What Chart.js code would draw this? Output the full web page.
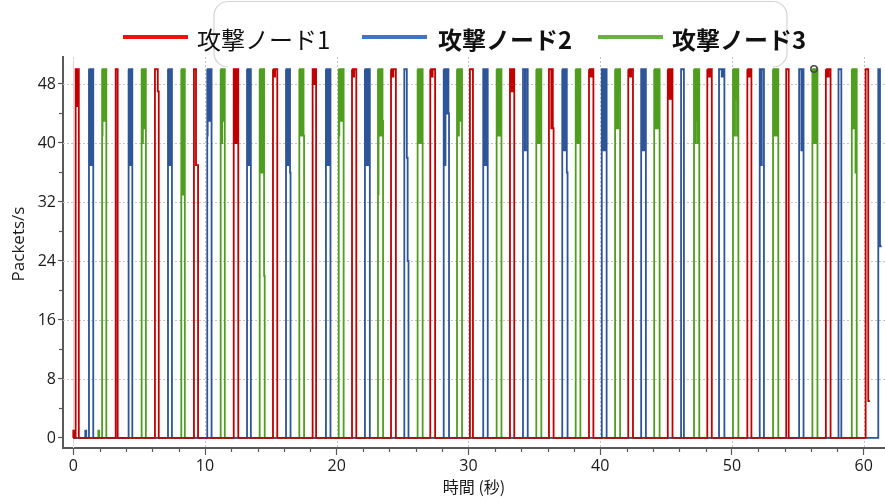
<!DOCTYPE html>
<html>
<head>
<meta charset="utf-8">
<script src="https://cdn.jsdelivr.net/npm/chart.js@4.4.1/dist/chart.umd.min.js"></script>
<style>
  html, body { margin: 0; padding: 0; background: #ffffff; }
  #wrap { position: relative; width: 885px; height: 502px; }
</style>
</head>
<body>
<div id="wrap"><canvas id="c" width="885" height="502"></canvas></div>
<script>
// Series names (legend)
const seriesNames = ['攻撃ノード1', '攻撃ノード2', '攻撃ノード3'];

// Each burst: [start (s), end (s), packets/s per equal slice of the burst, falls back to 0 afterwards]
const node1Bursts = [
  [0.00, 0.14, [1, 1]],
  [0.18, 0.48, [50, 50, 50, 45, 50]],
  [3.22, 3.52, [50, 50]],
  [6.20, 6.56, [50, 50, 50, 50, 47]],
  [9.16, 9.55, [50, 50, 50, 37, 37]],
  [12.18, 12.56, [50, 50, 50, 40, 50, 40, 50, 40, 50, 40, 50]],
  [15.16, 15.54, [50, 49, 50, 49, 50, 50, 50]],
  [18.17, 18.50, [50, 50, 50, 48, 50]],
  [21.16, 21.54, [50, 49, 50, 49, 50, 50, 50]],
  [24.12, 24.55, [50, 49, 50, 49, 50, 50, 50]],
  [27.10, 27.53, [50, 49, 50, 49, 50, 50, 50]],
  [30.11, 30.57, [50, 50]],
  [33.15, 33.53, [50, 50, 47, 50, 47, 50, 50]],
  [36.11, 36.52, [50, 50, 50, 50, 42, 50, 42]],
  [39.15, 39.55, [50, 49, 50, 49, 50, 50]],
  [42.13, 42.56, [50, 49, 50, 49, 50, 50]],
  [45.13, 45.55, [50, 46, 50, 46, 50, 46, 50]],
  [48.13, 48.54, [50, 49, 50, 49, 50, 50]],
  [51.17, 51.54, [50, 49, 50, 49, 50, 50]],
  [54.12, 54.50, [50, 50]],
  [57.13, 57.56, [50, 49, 50, 49, 50, 50]],
  [60.15, 60.48, [50, 50, 50, 50, 5], false]
];

const node2Bursts = [
  [0.91, 1.06, [1, 1]],
  [1.19, 1.55, [50, 37, 50, 37, 50, 37, 50, 37, 50, 37, 50]],
  [4.20, 4.51, [50, 37, 50, 37, 50, 37, 50, 37, 50, 37, 50]],
  [7.19, 7.52, [50, 37, 50, 37, 50, 37, 50, 37, 50, 37, 50]],
  [10.17, 10.53, [50, 41, 50, 43, 50, 43, 50, 43, 50, 43, 50]],
  [13.19, 13.51, [50, 37, 50, 37, 50, 37, 50, 37, 50, 37, 50]],
  [16.15, 16.53, [50, 37, 50, 37, 50, 37, 50, 37, 50, 36]],
  [19.18, 19.56, [50, 37, 50, 37, 50, 37, 50, 37, 50, 37, 50]],
  [22.14, 22.55, [50, 37, 50, 37, 50, 37, 50, 37, 50, 37, 50]],
  [25.13, 25.51, [50, 50, 50, 50, 38, 24]],
  [28.12, 28.57, [50, 45, 50, 37, 50, 45, 50, 44, 50, 44]],
  [31.12, 31.53, [50, 50, 50, 37, 50, 50]],
  [34.14, 34.57, [50, 50, 50, 39, 50, 50]],
  [37.12, 37.58, [50, 45, 50, 39, 50, 39, 50, 36]],
  [40.12, 40.54, [50, 50, 39, 50, 39, 50, 39, 50]],
  [43.11, 43.54, [50, 50, 39, 50, 39, 50]],
  [46.14, 46.57, [50, 50]],
  [49.02, 49.53, [50, 50, 50, 49, 50]],
  [52.11, 52.51, [50, 50, 37, 50, 50]],
  [55.10, 55.52, [50, 50, 50, 39, 50]],
  [58.09, 58.52, [50, 50]],
  [61.11, 61.37, [50, 50, 50, 26], false]
];

const node3Bursts = [
  [1.90, 2.03, [1, 1]],
  [2.19, 2.54, [50, 41, 50, 43, 50, 43, 50, 43, 50, 43, 50]],
  [5.19, 5.54, [50, 42, 50, 40, 50, 42, 50, 42, 50, 42, 50]],
  [8.20, 8.50, [50, 40, 50, 40, 50, 33, 50, 45, 50]],
  [11.19, 11.54, [50, 40, 50, 40, 50, 43, 50, 46, 50]],
  [14.15, 14.58, [50, 36, 50, 36, 50, 36, 50, 50, 22]],
  [17.16, 17.56, [50, 41, 50, 41, 50, 41, 50, 41, 50, 41]],
  [20.15, 20.57, [50, 41, 50, 43, 50, 43, 50, 43, 50]],
  [23.13, 23.56, [50, 33, 50, 41, 50, 41, 50, 41, 50, 43]],
  [26.14, 26.57, [50, 40, 50, 40, 50, 40, 50, 40, 50]],
  [29.13, 29.56, [50, 41, 50, 41, 50, 43, 50, 43, 50]],
  [32.14, 32.55, [50, 42, 50, 41, 50, 41, 50, 42, 50]],
  [35.15, 35.58, [50, 40, 50, 40, 50, 40, 50, 40, 50]],
  [38.14, 38.54, [50, 40, 50, 40, 50, 40, 50, 40, 50]],
  [41.13, 41.56, [50, 42, 50, 42, 50, 42, 50, 47, 50]],
  [44.10, 44.56, [50, 42, 50, 42, 50, 42, 50, 42, 50]],
  [47.12, 47.57, [50, 40, 50, 40, 50, 43, 50, 40, 50]],
  [50.08, 50.54, [50, 41, 50, 41, 50, 46, 50, 41, 50]],
  [53.12, 53.57, [50, 41, 50, 41, 50, 41, 50, 41, 50]],
  [56.11, 56.54, [50, 40, 50, 40, 50, 40, 50, 40, 50]],
  [59.10, 59.52, [50, 42, 50, 42, 50, 42, 50, 36, 50]]
];

// Axis ticks
const xTicks = [0, 10, 20, 30, 40, 50, 60];
const yTicks = [0, 8, 16, 24, 32, 40, 48];
const xMinorStep = 2;
const yMinorStep = 4;

// Turn bursts into step-line points (each sample holds for one slice of the burst)
function burstPoints(bursts) {
  const pts = [{ x: 0, y: 0 }];
  bursts.forEach(([t0, t1, vals, drop]) => {
    const n = vals.length;
    pts.push({ x: t0, y: 0 });
    vals.forEach((v, i) => pts.push({ x: t0 + (t1 - t0) * i / n, y: v }));
    if (drop === false) {
      pts.push({ x: t1, y: vals[n - 1] });
    } else {
      pts.push({ x: t1, y: 0 });
    }
  });
  return pts;
}

const plotColors = ['#C00000', '#2E5597', '#4F9E1F'];
const legendColors = ['#EE1111', '#4472C4', '#70AD47'];

// Decorations: framed header box, dotted grid, minor ticks, y title, legend
const decor = {
  id: 'decor',
  beforeDraw(chart) {
    const ctx = chart.ctx;
    ctx.save();
    ctx.fillStyle = '#ffffff';
    ctx.fillRect(0, 0, chart.width, chart.height);
    // rounded frame behind the legend
    const l = 214, r = 787, t = 1.5, b = 67, rad = 14;
    ctx.strokeStyle = '#d4d4d4';
    ctx.lineWidth = 1.2;
    ctx.beginPath();
    ctx.moveTo(l + rad, b);
    ctx.arcTo(l, b, l, b - rad, rad);
    ctx.lineTo(l, t + rad);
    ctx.arcTo(l, t, l + rad, t, rad);
    ctx.lineTo(r - rad, t);
    ctx.arcTo(r, t, r, t + rad, rad);
    ctx.lineTo(r, b - rad);
    ctx.arcTo(r, b, r - rad, b, rad);
    ctx.stroke();
    ctx.restore();
  },
  beforeDatasetsDraw(chart) {
    const { ctx, chartArea: a, scales: { x, y } } = chart;
    ctx.save();
    ctx.strokeStyle = '#c4c4c4';
    ctx.lineWidth = 1;
    ctx.setLineDash([2, 2]);
    yTicks.forEach(v => {
      if (v === 0) return;
      const py = Math.round(y.getPixelForValue(v)) + 0.5;
      ctx.beginPath(); ctx.moveTo(a.left, py); ctx.lineTo(a.right, py); ctx.stroke();
    });
    xTicks.forEach(v => {
      const px = Math.round(x.getPixelForValue(v)) + 0.5;
      if (v === 0) { ctx.setLineDash([]); ctx.strokeStyle = '#dadada'; }
      else { ctx.setLineDash([2, 2]); ctx.strokeStyle = '#c4c4c4'; }
      ctx.beginPath(); ctx.moveTo(px, a.top); ctx.lineTo(px, a.bottom); ctx.stroke();
    });
    ctx.restore();
  },
  afterDatasetsDraw(chart) {
    const ctx = chart.ctx;
    ctx.save();
    ctx.strokeStyle = '#4a4a4a';
    ctx.lineWidth = 1.6;
    ctx.beginPath();
    ctx.arc(814, 69, 3.2, 0, Math.PI * 2);
    ctx.stroke();
    ctx.restore();
  },
  afterDraw(chart) {
    const { ctx, chartArea: a, scales: { x, y } } = chart;
    ctx.save();
    // minor ticks
    ctx.strokeStyle = '#595959';
    ctx.lineWidth = 1.2;
    for (let v = 0; v <= x.max; v += xMinorStep) {
      if (xTicks.includes(v)) continue;
      const px = Math.round(x.getPixelForValue(v)) + 0.5;
      ctx.beginPath(); ctx.moveTo(px, a.bottom); ctx.lineTo(px, a.bottom + 4); ctx.stroke();
    }
    for (let v = 0; v <= y.max; v += yMinorStep) {
      if (yTicks.includes(v)) continue;
      const py = Math.round(y.getPixelForValue(v)) + 0.5;
      ctx.beginPath(); ctx.moveTo(a.left, py); ctx.lineTo(a.left - 4, py); ctx.stroke();
    }
    // y axis title
    ctx.translate(19, 244);
    ctx.rotate(-Math.PI / 2);
    ctx.fillStyle = '#1a1a1a';
    ctx.font = '17px "Open Sans"';
    ctx.textAlign = 'center';
    ctx.textBaseline = 'middle';
    ctx.fillText('Packets/s', 0, 0);
    ctx.restore();

    // legend
    ctx.save();
    const items = [
      { lx: 123, tx: 197, font: '400 24px "Noto Sans CJK JP"' },
      { lx: 362, tx: 438, font: '700 24px "Noto Sans CJK JP"' },
      { lx: 598, tx: 672, font: '700 24px "Noto Sans CJK JP"' }
    ];
    items.forEach((it, i) => {
      ctx.strokeStyle = legendColors[i];
      ctx.lineWidth = 4;
      ctx.beginPath(); ctx.moveTo(it.lx, 37); ctx.lineTo(it.lx + 65, 37); ctx.stroke();
      ctx.fillStyle = '#111111';
      ctx.font = it.font;
      ctx.textAlign = 'left';
      ctx.textBaseline = 'middle';
      ctx.fillText(seriesNames[i], it.tx, 40);
    });
    ctx.restore();
  }
};

const bursts = [node1Bursts, node2Bursts, node3Bursts];

new Chart(document.getElementById('c'), {
  type: 'line',
  data: {
    datasets: bursts.map((b, i) => ({
      label: seriesNames[i],
      data: burstPoints(b),
      borderColor: plotColors[i],
      backgroundColor: plotColors[i],
      borderWidth: 1.8,
      stepped: 'after',
      pointRadius: 0,
      fill: false
    }))
  },
  options: {
    responsive: false,
    animation: false,
    events: [],
    layout: { padding: { top: 57, left: 0, right: 0, bottom: 0 } },
    plugins: { legend: { display: false }, tooltip: { enabled: false } },
    scales: {
      x: {
        type: 'linear',
        min: -0.78,
        max: 61.62,
        afterBuildTicks: s => { s.ticks = xTicks.map(v => ({ value: v })); },
        afterFit: s => { s.height = 54; },
        grid: { drawOnChartArea: false, drawTicks: true, tickLength: 7, tickColor: '#595959', tickWidth: 1.2 },
        border: { display: true, color: '#595959', width: 2 },
        ticks: {
          autoSkip: false, maxRotation: 0, padding: 2,
          color: '#1a1a1a',
          font: { family: '"Open Sans"', size: 16 }
        },
        title: {
          display: true, text: '時間 (秒)', color: '#1a1a1a',
          font: { family: '"Noto Sans CJK JP"', size: 16 },
          padding: { top: 0, bottom: 5 }
        }
      },
      y: {
        type: 'linear',
        min: -1.36,
        max: 51.66,
        afterBuildTicks: s => { s.ticks = yTicks.map(v => ({ value: v })); },
        afterFit: s => { s.width = 63; },
        grid: { drawOnChartArea: false, drawTicks: true, tickLength: 5, tickColor: '#595959', tickWidth: 1.2 },
        border: { display: true, color: '#595959', width: 2 },
        ticks: {
          autoSkip: false, padding: 2,
          color: '#1a1a1a',
          font: { family: '"Open Sans"', size: 16 }
        }
      }
    }
  },
  plugins: [decor]
});
</script>
</body>
</html>
